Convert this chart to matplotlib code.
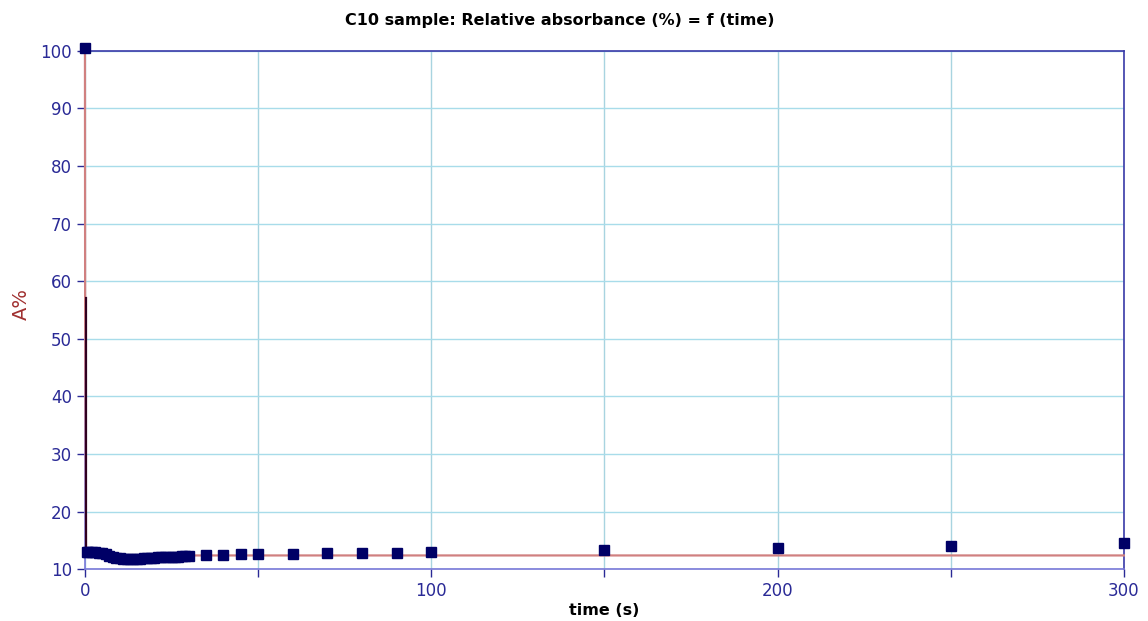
import numpy as np
import matplotlib.pyplot as plt

# measured points (time in s, relative absorbance in %)
time_s = [0, 0.5, 1, 2, 3, 4, 5, 6, 7, 8, 9, 10, 11, 12, 13, 14, 15, 16, 17, 18,
          19, 20, 21, 22, 23, 24, 25, 26, 27, 28, 29, 30,
          35, 40, 45, 50, 60, 70, 80, 90, 100, 150, 200, 250, 300]
absorb = [100.5, 13.0, 13.0, 13.0, 13.0, 12.9, 12.9, 12.6, 12.3, 12.1, 12.0, 11.9,
          11.8, 11.8, 11.8, 11.8, 11.8, 11.8, 11.9, 11.9, 12.0, 12.0, 12.1, 12.1,
          12.1, 12.2, 12.2, 12.2, 12.2, 12.3, 12.3, 12.3,
          12.4, 12.5, 12.6, 12.6, 12.6, 12.8, 12.8, 12.8, 13.0, 13.3, 13.7, 14.0, 14.5]

# fitted curve
fit_t = [0, 0.05, 0.3, 1, 300]
fit_a = [100, 57, 14, 12.4, 12.4]

navy = "#000066"
tick_col = "#2a2a96"

fig = plt.figure(figsize=(11.48, 6.21), dpi=100)
ax = fig.add_axes([0.074, 0.0833, 0.905, 0.8351])

ax.plot(fit_t, fit_a, color="#d08080", lw=1.6, zorder=6, clip_on=False)
ax.plot([0.3, 0.3], [57, 13], color="#300020", lw=1.6, zorder=7)
ax.plot(time_s, absorb, "s", color=navy, ms=7.5, zorder=8, clip_on=False)

ax.set_xlim(0, 300)
ax.set_ylim(10, 100)
ax.set_xticks([0, 100, 200, 300])
ax.set_xticks([50, 150, 250], minor=True)
ax.set_yticks(np.arange(10, 101, 10))

ax.grid(True, which="both", axis="x", color="#a8d4e0", lw=1)
ax.grid(True, axis="y", color="#a8dcea", lw=1)
ax.set_axisbelow(True)

for side in ["top", "right"]:
    ax.spines[side].set_color("#3a3aa8")
ax.spines["bottom"].set_color("#7878d8")
ax.spines["left"].set_color("#7878d8")
for s in ax.spines.values():
    s.set_linewidth(1.2)

ax.tick_params(axis="both", which="both", colors=tick_col, labelcolor=tick_col,
               labelsize=12, length=6, width=1)
ax.tick_params(axis="x", which="minor", length=6)

fig.text(0.488, 0.967, "C10 sample: Relative absorbance (%) = f (time)",
         ha="center", va="center", fontsize=11.5, fontweight="bold")
ax.set_xlabel("time (s)", fontsize=11.5, fontweight="bold", labelpad=2)
fig.text(0.019, 0.51, "A%", rotation=90, ha="center", va="center",
         fontsize=14, color="#a03030")

fig.savefig("out.png", dpi=100)
